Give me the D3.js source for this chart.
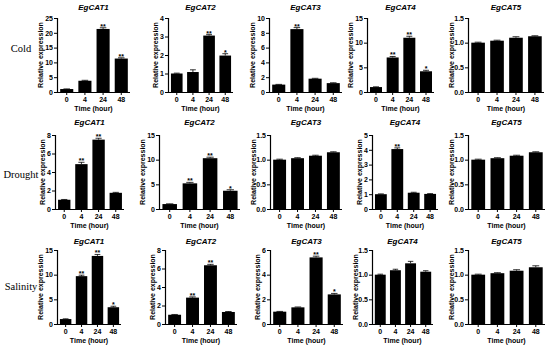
<!DOCTYPE html>
<html>
<head>
<meta charset="utf-8">
<script src="https://cdn.jsdelivr.net/npm/d3@7"></script>
<style>
  body { margin: 0; background: #fff; }
  svg { display: block; }
</style>
</head>
<body>
<div id="chart"></div>
<script>
var times = ["0", "4", "24", "48"];
var genes = ["EgCAT1", "EgCAT2", "EgCAT3", "EgCAT4", "EgCAT5"];
var stresses = ["Cold", "Drought", "Salinity"];

// mean expression, one row per stress, one list per gene
var coldValues = [[1, 3.8, 21.3, 11.3], [1, 1.08, 3.05, 1.97], [1, 8.5, 1.8, 1.2], [1, 7.0, 11.0, 4.2], [1, 1.04, 1.1, 1.13]];
var droughtValues = [[1, 4.85, 7.5, 1.75], [1, 5.2, 10.3, 3.7], [1, 1.03, 1.08, 1.15], [1, 4.05, 1.1, 1.02], [1, 1.03, 1.08, 1.15]];
var salinityValues = [[1, 9.7, 13.8, 3.4], [1, 2.85, 6.35, 1.3], [1, 1.35, 5.4, 2.4], [1, 1.09, 1.23, 1.06], [1, 1.03, 1.08, 1.15]];

var coldErrors = [[0.05, 0.15, 0.4, 0.25], [0.02, 0.12, 0.05, 0.1], [0.03, 0.2, 0.05, 0.05], [0.05, 0.2, 0.3, 0.2], [0.01, 0.01, 0.02, 0.01]];
var droughtErrors = [[0.03, 0.2, 0.15, 0.05], [0.05, 0.2, 0.2, 0.2], [0.01, 0.01, 0.01, 0.01], [0.02, 0.08, 0.03, 0.02], [0.01, 0.01, 0.01, 0.01]];
var salinityErrors = [[0.05, 0.2, 0.3, 0.2], [0.03, 0.08, 0.1, 0.05], [0.02, 0.03, 0.1, 0.08], [0.01, 0.02, 0.04, 0.02], [0.01, 0.01, 0.02, 0.03]];

var coldSig = [["", "", "**", "**"], ["", "", "**", "*"], ["", "**", "", ""], ["", "**", "**", "*"], ["", "", "", ""]];
var droughtSig = [["", "**", "**", ""], ["", "**", "**", "*"], ["", "", "", ""], ["", "**", "", ""], ["", "", "", ""]];
var salinitySig = [["", "**", "**", "*"], ["", "**", "**", ""], ["", "", "**", "*"], ["", "", "", ""], ["", "", "", ""]];

// y-axis tick values
var coldTicks = [[0, 5, 10, 15, 20, 25], [0, 1, 2, 3, 4], [0, 2, 4, 6, 8, 10], [0, 5, 10, 15], [0, 0.5, 1.0, 1.5]];
var droughtTicks = [[0, 2, 4, 6, 8], [0, 5, 10, 15], [0, 0.5, 1.0, 1.5], [0, 1, 2, 3, 4, 5], [0, 0.5, 1.0, 1.5]];
var salinityTicks = [[0, 5, 10, 15], [0, 2, 4, 6, 8], [0, 2, 4, 6], [0, 0.5, 1.0, 1.5], [0, 0.5, 1.0, 1.5]];

var allValues = [coldValues, droughtValues, salinityValues];
var allErrors = [coldErrors, droughtErrors, salinityErrors];
var allSig = [coldSig, droughtSig, salinitySig];
var allTicks = [coldTicks, droughtTicks, salinityTicks];

// panel layout: y-axis x, x-axis end, per row
var axisLeft = [[57, 168, 269, 367, 468], [55, 159, 270, 372, 468], [57, 165, 270, 372, 468]];
var axisRight = [[130, 233, 342, 434, 544], [124, 240, 342, 438, 545], [121, 237, 343, 433, 545]];
var rowTop = [18, 135, 250];
var rowBottom = [92, 209, 324];
var titleY = [10, 125, 244];
var labelY = [52, 178, 290];

var svg = d3.select("#chart").append("svg")
    .attr("width", 550)
    .attr("height", 349);

var font = "Arial, 'Liberation Sans', sans-serif";

stresses.forEach(function (stress, r) {
    svg.append("text")
        .attr("x", 21)
        .attr("y", labelY[r])
        .attr("text-anchor", "middle")
        .attr("font-family", "'Liberation Serif', 'Times New Roman', serif")
        .attr("font-size", "10.5px")
        .text(stress);

    genes.forEach(function (gene, c) {
        var vals = allValues[r][c];
        var errs = allErrors[r][c];
        var sig = allSig[r][c];
        var ticks = allTicks[r][c];
        var x0 = axisLeft[r][c], x1 = axisRight[r][c];

        var y = d3.scaleLinear()
            .domain([0, d3.max(ticks)])
            .range([rowBottom[r], rowTop[r]]);
        var x = d3.scaleBand()
            .domain(times)
            .range([x0 + 1, x1])
            .paddingInner(0.28)
            .paddingOuter(0.12);

        var g = svg.append("g");
        var decimals = d3.max(ticks) <= 1.5;

        g.append("g")
            .attr("transform", "translate(" + x0 + ",0)")
            .call(d3.axisLeft(y).tickValues(ticks).tickSize(3).tickPadding(1)
                .tickFormat(decimals ? d3.format(".1f") : d3.format("d")))
            .call(function (a) {
                a.selectAll("text").attr("font-family", font).attr("font-size", "7px").attr("font-weight", "bold");
                a.select(".domain").attr("stroke-width", 1.2);
            });

        g.append("g")
            .attr("transform", "translate(0," + rowBottom[r] + ")")
            .call(d3.axisBottom(x).tickSize(3).tickPadding(2).tickSizeOuter(0))
            .call(function (a) {
                a.selectAll("text").attr("font-family", font).attr("font-size", "7px").attr("font-weight", "bold");
                a.select(".domain").attr("d", "M" + (x0 - 0.5) + ",0.5H" + x1).attr("stroke-width", 1.2);
            });

        g.selectAll(".bar")
            .data(vals)
            .enter()
            .append("rect")
            .attr("x", function (d, i) { return x(times[i]); })
            .attr("y", function (d) { return y(d); })
            .attr("width", x.bandwidth())
            .attr("height", function (d) { return y(0) - y(d); })
            .attr("fill", "#000");

        var cap = x.bandwidth() * 0.25;
        vals.forEach(function (d, i) {
            var cx = x(times[i]) + x.bandwidth() / 2;
            var top = y(d + errs[i]);
            g.append("line")
                .attr("x1", cx).attr("x2", cx)
                .attr("y1", y(d)).attr("y2", top)
                .attr("stroke", "#000").attr("stroke-width", 0.8);
            g.append("line")
                .attr("x1", cx - cap).attr("x2", cx + cap)
                .attr("y1", top).attr("y2", top)
                .attr("stroke", "#000").attr("stroke-width", 0.8);
            if (sig[i]) {
                g.append("text")
                    .attr("x", cx)
                    .attr("y", top + 1)
                    .attr("text-anchor", "middle")
                    .attr("font-family", font)
                    .attr("font-size", "7px")
                    .attr("font-weight", "bold")
                    .text(sig[i]);
            }
        });

        var mid = (x0 + x1) / 2;
        g.append("text")
            .attr("x", mid)
            .attr("y", titleY[r])
            .attr("text-anchor", "middle")
            .attr("font-family", font)
            .attr("font-size", "8px")
            .attr("font-weight", "bold")
            .attr("font-style", "italic")
            .text(gene);

        g.append("text")
            .attr("x", mid)
            .attr("y", rowBottom[r] + 19)
            .attr("text-anchor", "middle")
            .attr("font-family", font)
            .attr("font-size", "7px")
            .attr("font-weight", "bold")
            .text("Time (hour)");

        g.append("text")
            .attr("transform", "translate(" + (x0 - (decimals || d3.max(ticks) >= 10 ? 14 : 10)) + "," + ((rowTop[r] + rowBottom[r]) / 2) + ") rotate(-90)")
            .attr("text-anchor", "middle")
            .attr("font-family", font)
            .attr("font-size", "7px")
            .attr("font-weight", "bold")
            .text("Relative expression");
    });
});
</script>
</body>
</html>
